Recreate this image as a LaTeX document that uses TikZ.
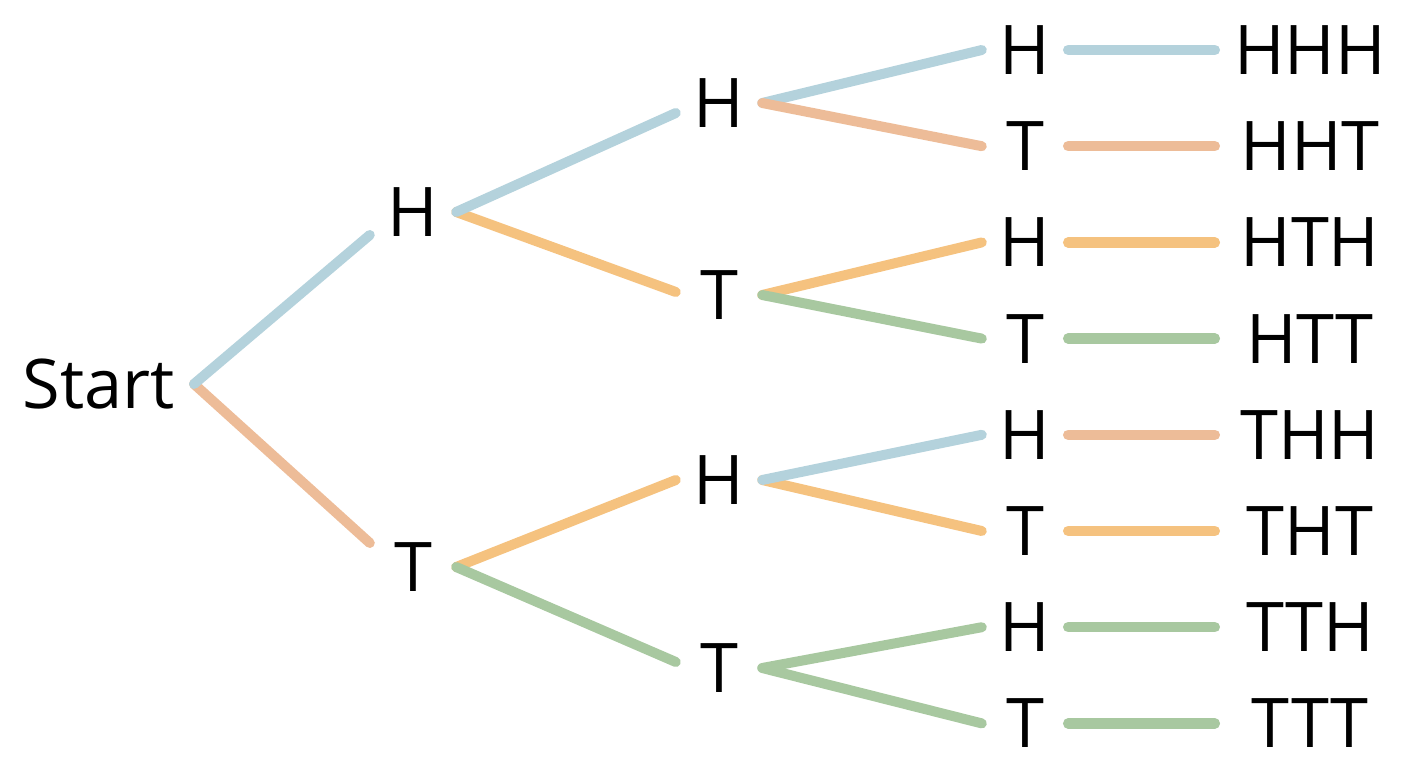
\documentclass[tikz,border=0pt]{standalone}
\usepackage{fontspec}
\setmainfont{Open Sans}
\usetikzlibrary{calc}
\definecolor{cBlue}{HTML}{B4D2DC}
\definecolor{cSalmon}{HTML}{EDBC98}
\definecolor{cOrange}{HTML}{F5C27F}
\definecolor{cGreen}{HTML}{A8C8A0}
\begin{document}
\begin{tikzpicture}[x=1pt,y=-1pt,
  lbl/.style={inner sep=0pt, minimum width=86pt, anchor=center,
    font=\fontsize{68.5}{80}\selectfont},
  fin/.style={lbl, minimum width=190pt},
  br/.style={line width=10pt, line cap=round},
  hz/.style={line width=10.5pt, line cap=round}]
\useasboundingbox (0,0) rectangle (1408,768);
% labels
\node[lbl, minimum width=0pt, inner xsep=19pt, anchor=east] (s) at (194,384) {Start};
\node[lbl] (h) at (413,212) {H};
\node[lbl] (t) at (413,567) {T};
\node[lbl] (hh) at (719,103) {H};
\node[lbl] (ht) at (719,295) {T};
\node[lbl] (th) at (719,480) {H};
\node[lbl] (tt) at (719,668) {T};
\node[lbl] (hhh) at (1025,50) {H};
\node[lbl] (hht) at (1025,146.2) {T};
\node[lbl] (hth) at (1025,242.4) {H};
\node[lbl] (htt) at (1025,338.6) {T};
\node[lbl] (thh) at (1025,434.8) {H};
\node[lbl] (tht) at (1025,531) {T};
\node[lbl] (tth) at (1025,627.2) {H};
\node[lbl] (ttt) at (1025,723.4) {T};
\node[fin] (fhhh) at (1310,50) {HHH};
\node[fin] (fhht) at (1310,146.2) {HHT};
\node[fin] (fhth) at (1310,242.4) {HTH};
\node[fin] (fhtt) at (1310,338.6) {HTT};
\node[fin] (fthh) at (1310,434.8) {THH};
\node[fin] (ftht) at (1310,531) {THT};
\node[fin] (ftth) at (1310,627.2) {TTH};
\node[fin] (fttt) at (1310,723.4) {TTT};
% branches
\draw[br,cSalmon] (s.east) -- ($(t.west)+(0,-24)$);
\draw[br,cBlue] (s.east) -- ($(h.west)+(0,23)$);
\draw[br,cOrange] (h.east) -- ($(ht.west)+(0,-3)$);
\draw[br,cBlue] (h.east) -- ($(hh.west)+(0,10)$);
\draw[br,cOrange] (t.east) -- (th.west);
\draw[br,cGreen] (t.east) -- ($(tt.west)+(0,-6)$);
\draw[br,cBlue] (hh.east) -- (hhh.west);
\draw[br,cSalmon] (hh.east) -- (hht.west);
\draw[br,cOrange] (ht.east) -- (hth.west);
\draw[br,cGreen] (ht.east) -- (htt.west);
\draw[br,cOrange] (th.east) -- (tht.west);
\draw[br,cBlue] (th.east) -- (thh.west);
\draw[br,cGreen] (tt.east) -- (tth.west);
\draw[br,cGreen] (tt.east) -- (ttt.west);
% outcome connectors
\draw[hz,cBlue] (hhh.east) -- (fhhh.west);
\draw[hz,cSalmon] (hht.east) -- (fhht.west);
\draw[hz,cOrange] (hth.east) -- (fhth.west);
\draw[hz,cGreen] (htt.east) -- (fhtt.west);
\draw[hz,cSalmon] (thh.east) -- (fthh.west);
\draw[hz,cOrange] (tht.east) -- (ftht.west);
\draw[hz,cGreen] (tth.east) -- (ftth.west);
\draw[hz,cGreen] (ttt.east) -- (fttt.west);
\end{tikzpicture}
\end{document}
